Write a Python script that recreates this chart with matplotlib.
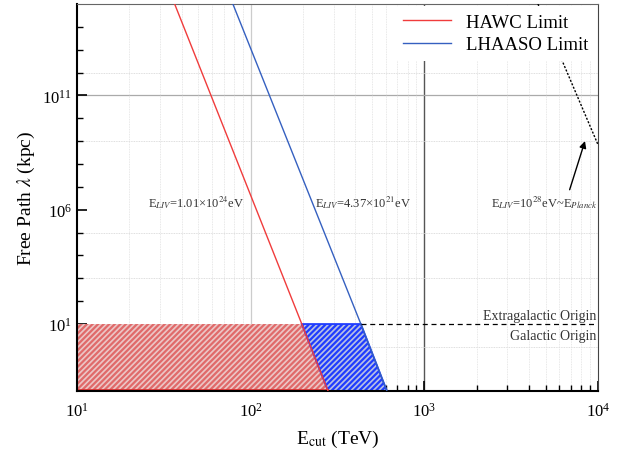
import numpy as np
import matplotlib
matplotlib.use("Agg")
from matplotlib import pyplot as plt

plt.rcParams['font.family'] = ['Liberation Serif', 'DejaVu Serif']
plt.rcParams['mathtext.fontset'] = 'stix'
plt.rcParams['hatch.linewidth'] = 1.6

# limite inferior del eje y
y_bot = 10 ** -1.93
y_top = 1e15

# curvas de camino libre (E_cut en TeV, lambda en kpc)
hawc_E = [36.5, 197, 279]
hawc_lam = [1e15, 1e1, y_bot]
lhaaso_E = [79, 431, 609]
lhaaso_lam = [1e15, 1e1, y_bot]
planck_E = [4510, 10000]
planck_lam = [1e15, 7e8]

# regiones sombreadas
galac_red_E = [10, 197, 279, 10]
galac_red_lam = [1e1, 1e1, y_bot, y_bot]
galac_blue_E = [197, 431, 609, 279]
galac_blue_lam = [1e1, 1e1, y_bot, y_bot]

# limite extragalactico
origin_E = [431, 9700]
origin_lam = [1e1, 1e1]

# lineas de grilla horizontales que se ven en la figura
grid_lam = [1e0, 1e3, 1e5, 1e9, 1e12]

fig = plt.figure(figsize=(6.33, 4.56), dpi=100)
ax = fig.add_axes([77/633, 1 - 392/456, (598-77)/633, (392-5)/456])
ax.set_xscale('log')
ax.set_yscale('log')
ax.set_xlim(10, 1e4)
ax.set_ylim(y_bot, y_top)
ax.set_axisbelow(True)

# grilla
ax.axvline(100, color='#cccccc', lw=0.9, zorder=0)
ax.axvline(1000, color='#555555', lw=1.0, zorder=0)
ax.axhline(1e11, color='#aaaaaa', lw=0.9, zorder=0)
ax.grid(True, which='minor', axis='x', color='#e0e0e0', ls=(0, (1, 1)), lw=0.6)
for yv in grid_lam:
    ax.axhline(yv, color='#d4d4d4', ls=(0, (1, 1)), lw=0.6, zorder=0)

# regiones
ax.fill(galac_red_E, galac_red_lam, facecolor='#ecc6c6', edgecolor='none', zorder=1)
ax.fill(galac_red_E, galac_red_lam, facecolor='none', edgecolor='#e06a6a', hatch='//////', lw=0, zorder=1)
ax.fill(galac_blue_E, galac_blue_lam, facecolor='#b8c0e4', edgecolor='none', zorder=1)
ax.fill(galac_blue_E, galac_blue_lam, facecolor='none', edgecolor='#1f3cff', hatch='//////', lw=0, zorder=1)
ax.fill(galac_blue_E, galac_blue_lam, facecolor='none', edgecolor='#1f3cff', lw=1.3, zorder=2)
ax.plot([10, 279], [y_bot * 1.08, y_bot * 1.08], color='#e03030', lw=1.2, zorder=2)

# curvas
ax.plot(hawc_E, hawc_lam, color='#f03c3c', lw=1.0, label='HAWC Limit', zorder=3)
ax.plot(lhaaso_E, lhaaso_lam, color='#3560c0', lw=1.0, label='LHAASO Limit', zorder=3)
ax.plot(planck_E, planck_lam, color='black', lw=1.0, ls=(0, (1.5, 1.2)), zorder=3)
ax.plot(origin_E, origin_lam, color='black', lw=0.9, ls=(0, (4, 3)), zorder=3)

# textos
ax.text(25.6, 10**6.37, r'E$_{LIV}$=1.01×10$^{24}$eV', fontsize=9, va='center', ha='left', color='#333333')
ax.text(234, 10**6.37, r'E$_{LIV}$=4.37×10$^{21}$eV', fontsize=9, va='center', ha='left', color='#333333')
ax.text(9900, 10**6.37, r'E$_{LIV}$=10$^{28}$eV~E$_{Planck}$', fontsize=9, va='center', ha='right', color='#333333')
ax.annotate('', xy=(8510, 10**9.12), xytext=(6790, 10**6.76),
            arrowprops=dict(arrowstyle='-|>', color='black', lw=1.0, mutation_scale=10))
ax.text(9750, 10**1.38, 'Extragalactic Origin', fontsize=10, ha='right', va='center', color='#333333')
ax.text(9750, 10**0.5, 'Galactic Origin', fontsize=10, ha='right', va='center', color='#333333')

# ejes
ax.set_xticks([10, 100, 1000, 10000])
ax.set_yticks([1e1, 1e6, 1e11])
ax.set_yticks(10.0 ** np.arange(-1, 15), minor=True)
ax.set_yticklabels([], minor=True)
ax.tick_params(which='both', direction='in', labelsize=12, top=False, right=False)
ax.tick_params(which='major', length=7, width=1.2)
ax.tick_params(which='minor', length=4, width=1.0)
ax.tick_params(axis='x', pad=8)
ax.set_xlabel(r'E$_{\rm cut}$ (TeV)', fontsize=14, labelpad=6)
ax.set_ylabel(r'Free Path $\lambda$ (kpc)', fontsize=14, labelpad=4)
for s in ['left', 'bottom']:
    ax.spines[s].set_linewidth(1.5)
ax.spines['top'].set_color('#666666')
ax.spines['right'].set_color('#444444')

leg = ax.legend(loc='upper right', fontsize=13.5, frameon=True, framealpha=1, edgecolor='none',
                handlelength=2.6, borderaxespad=0.1, labelspacing=0.3, borderpad=0.4)
leg.get_frame().set_linewidth(0)

fig.savefig('out.png', dpi=100)
